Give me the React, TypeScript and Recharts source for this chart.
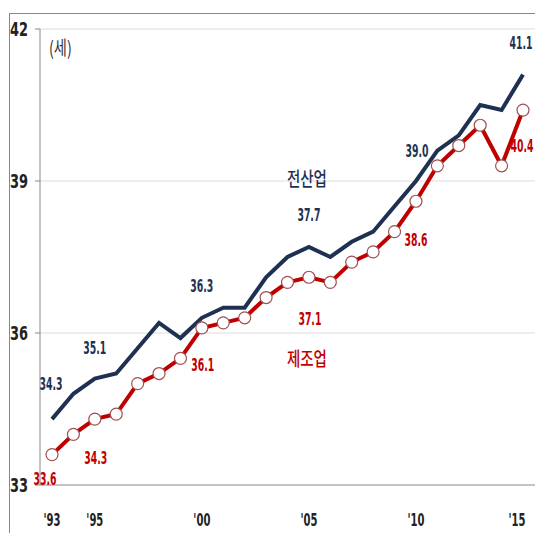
import { LineChart, Line, XAxis, YAxis, CartesianGrid, LabelList } from "recharts";

const years = [
  1993, 1994, 1995, 1996, 1997, 1998, 1999, 2000, 2001, 2002, 2003, 2004,
  2005, 2006, 2007, 2008, 2009, 2010, 2011, 2012, 2013, 2014, 2015,
];
// 전산업 (all industries)
const allIndustry = [
  34.3, 34.8, 35.1, 35.2, 35.7, 36.2, 35.9, 36.3, 36.5, 36.5, 37.1, 37.5,
  37.7, 37.5, 37.8, 38.0, 38.5, 39.0, 39.6, 39.9, 40.5, 40.4, 41.1,
];
// 제조업 (manufacturing)
const manufacturing = [
  33.6, 34.0, 34.3, 34.4, 35.0, 35.2, 35.5, 36.1, 36.2, 36.3, 36.7, 37.0,
  37.1, 37.0, 37.4, 37.6, 38.0, 38.6, 39.3, 39.7, 40.1, 39.3, 40.4,
];
const xTicks = [1993, 1995, 2000, 2005, 2010, 2015];
const yTicks = [33, 36, 39, 42];

const data = years.map((year, i) => ({
  year,
  all: allIndustry[i],
  mfg: manufacturing[i],
}));

const NAVY = "#1f3152";
const RED = "#c00000";
const NUM_FONT = "'Liberation Sans Narrow', 'DejaVu Sans Condensed', Arial, sans-serif";
const KR_FONT = "'Noto Sans CJK KR', sans-serif";
const LABEL_W = 23;

// label offsets from the point, by index
const allLabelOffsets: Record<number, [number, number]> = {
  0: [-1, -35],
  2: [0, -31],
  7: [0, -32],
  12: [0, -32],
  17: [1, -30],
  22: [-2, -32],
};
const mfgLabelOffsets: Record<number, [number, number]> = {
  0: [-7, 24],
  2: [1, 39],
  7: [1, 37],
  12: [1, 42],
  17: [0, 39],
  22: [-1, 36],
};

function makeLabel(
  offsets: Record<number, [number, number]>,
  color: string,
  name: string,
  nameDy: number
) {
  return (props: any) => {
    const { x, y, value, index } = props;
    const off = offsets[index];
    if (!off) return null;
    // last label sits at the right edge: anchor it at its end
    const isLast = index === years.length - 1;
    const cx = x + off[0];
    return (
      <g>
        <text
          x={isLast ? cx + LABEL_W / 2 : cx}
          y={y + off[1]}
          textAnchor={isLast ? "end" : "middle"}
          dominantBaseline="central"
          fill={color}
          fontSize={17}
          fontWeight="bold"
          fontFamily={NUM_FONT}
          textLength={LABEL_W}
          lengthAdjust="spacingAndGlyphs"
        >
          {Number(value).toFixed(1)}
        </text>
        {index === 12 && (
          <text
            x={x - 2}
            y={y + nameDy}
            textAnchor="middle"
            dominantBaseline="central"
            fill={color}
            fontSize={19}
            fontWeight={500}
            fontFamily={KR_FONT}
            textLength={40}
            lengthAdjust="spacingAndGlyphs"
          >
            {name}
          </text>
        )}
      </g>
    );
  };
}

const XTick = (props: any) => {
  const { x, y, payload, index } = props;
  return (
    <text
      x={index === xTicks.length - 1 ? x - 2 : x}
      y={y + 12}
      textAnchor="middle"
      dominantBaseline="central"
      fill="#222"
      fontSize={18}
      fontWeight="bold"
      fontFamily={NUM_FONT}
      textLength={17}
      lengthAdjust="spacingAndGlyphs"
    >
      {"'" + String(payload.value).slice(2)}
    </text>
  );
};

const YTick = (props: any) => {
  const { x, y, payload } = props;
  return (
    <text
      x={x}
      y={y}
      textAnchor="end"
      dominantBaseline="central"
      fill="#222"
      fontSize={19}
      fontWeight="bold"
      fontFamily={NUM_FONT}
      textLength={18}
      lengthAdjust="spacingAndGlyphs"
    >
      {payload.value}
    </text>
  );
};

export default function App() {
  return (
    <div
      style={{
        position: "absolute",
        left: 0,
        top: 0,
        width: 535,
        height: 533,
        background: "#fff",
        overflow: "hidden",
      }}
    >
      <div
        style={{
          position: "absolute",
          left: 9,
          top: 13,
          width: 526,
          height: 520,
          borderLeft: "1px solid #888",
          borderTop: "1px solid #888",
        }}
      />
      <LineChart
        width={535}
        height={533}
        data={data}
        margin={{ top: 29, right: 0, bottom: 0, left: 0 }}
      >
        <CartesianGrid vertical={false} stroke="#dcdcdc" />
        <XAxis
          dataKey="year"
          type="number"
          domain={[1993, 2015]}
          ticks={xTicks}
          padding={{ left: 12, right: 12 }}
          height={48}
          tickLine={false}
          tickSize={0}
          tickMargin={22}
          axisLine={{ stroke: "#999" }}
          tick={<XTick />}
        />
        <YAxis
          domain={[33, 42]}
          ticks={yTicks}
          width={40}
          tickSize={5}
          tickMargin={7}
          axisLine={{ stroke: "#888" }}
          tickLine={{ stroke: "#888" }}
          tick={<YTick />}
        />
        <Line
          dataKey="all"
          stroke={NAVY}
          strokeWidth={4}
          dot={false}
          isAnimationActive={false}
        >
          <LabelList dataKey="all" content={makeLabel(allLabelOffsets, NAVY, "전산업", -69)} />
        </Line>
        <Line
          dataKey="mfg"
          stroke={RED}
          strokeWidth={4}
          dot={{ r: 6, fill: "#fff", stroke: "#a05050", strokeWidth: 1.2 }}
          isAnimationActive={false}
        >
          <LabelList dataKey="mfg" content={makeLabel(mfgLabelOffsets, RED, "제조업", 80)} />
        </Line>
      </LineChart>
      <span
        style={{
          position: "absolute",
          left: 49,
          top: 35,
          fontFamily: KR_FONT,
          fontSize: 19,
          lineHeight: "24px",
          color: "#333",
          transform: "scaleX(0.75)",
          transformOrigin: "left",
        }}
      >
        (세)
      </span>
    </div>
  );
}
